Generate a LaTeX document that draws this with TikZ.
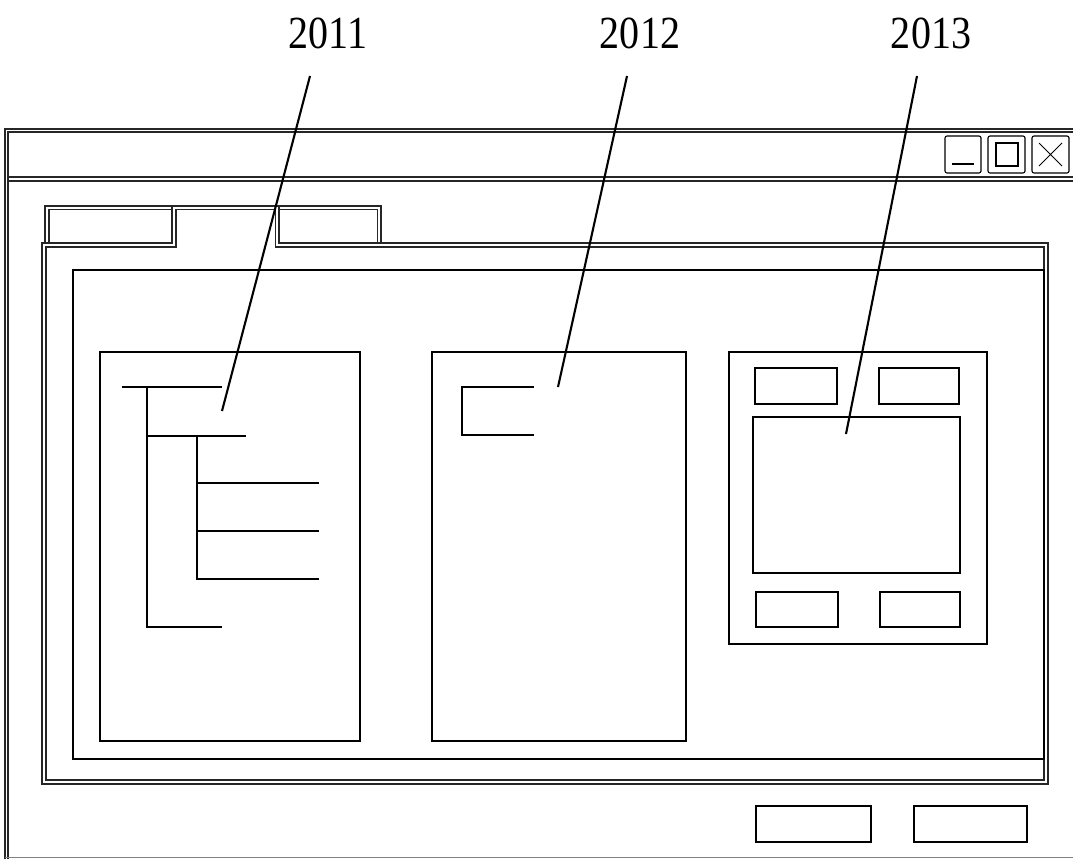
\documentclass[tikz,border=0pt]{standalone}
\usepackage{fontspec}
\setmainfont{Liberation Serif}
\begin{document}
\begin{tikzpicture}[x=1pt,y=-1pt,
  winline/.style={line width=1.1pt, draw=black!85},
  boxline/.style={line width=1.6pt},
  treeline/.style={line width=2.6pt},
  leader/.style={line width=2.1pt},
  tbtn/.style={line width=1.1pt, rounded corners=2pt},
  lbl/.style={font=\fontsize{46}{50}\selectfont, xscale=0.87, inner sep=0pt}]
\useasboundingbox (0,0) rectangle (1073,859);
\begin{scope}
\clip (0,0) rectangle (1073,859);
% window frame
\draw[winline] (5,859) -- (5,129) -- (1080,129);
\draw[winline] (8,859) -- (8,132) -- (1080,132);
\draw[winline, draw=black!50] (5,857.5) -- (1080,857.5);
% title bar bottom
\draw[winline] (8,177) -- (1080,177);
\draw[winline] (8,181) -- (1080,181);
\end{scope}
% title bar buttons
\draw[tbtn] (945,136) rectangle (981,173);
\draw[line width=1.1pt] (952,164) -- (974,164);
\draw[tbtn] (988,136) rectangle (1025,173);
\draw[line width=1.1pt] (996,143) rectangle (1018,166);
\draw[tbtn] (1032,136) rectangle (1069,173);
\draw[line width=0.9pt] (1039,143) -- (1062,166) (1062,143) -- (1039,166);
% tabs and panel
\draw[winline] (42,784) -- (42,243) -- (172,243) -- (172,206) -- (279,206) -- (279,243) -- (1048,243) -- (1048,784) -- cycle;
\draw[winline] (46,780) -- (46,247) -- (176,247) -- (176,209.5) -- (275.5,209.5) -- (275.5,247) -- (1044,247) -- (1044,780) -- cycle;
\draw[winline] (45,243) -- (45,206) -- (172,206);
\draw[winline] (49,243) -- (49,209.5) -- (172,209.5);
\draw[winline] (279,206) -- (381,206) -- (381,243);
\draw[winline] (279,209.5) -- (377.5,209.5) -- (377.5,243);
% inner frame
\draw[boxline] (73,270) rectangle (1044,759);
% left box with tree
\draw[boxline] (100,352) rectangle (360,741);
\draw[treeline] (122,387) -- (222,387);
\draw[treeline] (147,387) -- (147,627) -- (222,627);
\draw[treeline] (147,436) -- (246,436);
\draw[treeline] (197,436) -- (197,579) -- (319,579);
\draw[treeline] (197,483) -- (319,483);
\draw[treeline] (197,531) -- (319,531);
% middle box
\draw[boxline] (432,352) rectangle (686,741);
\draw[treeline] (534,387) -- (462,387) -- (462,435) -- (534,435);
% right box
\draw[boxline] (729,352) rectangle (987,644);
\draw[boxline] (755,368) rectangle (837,404);
\draw[boxline] (879,368) rectangle (959,404);
\draw[boxline] (753,417) rectangle (960,573);
\draw[boxline] (756,592) rectangle (838,627);
\draw[boxline] (880,592) rectangle (960,627);
% bottom buttons
\draw[boxline] (756,806) rectangle (871,842);
\draw[boxline] (914,806) rectangle (1027,842);
% labels and leaders
\node[lbl] (l2011) at (328,33) {2011};
\node[lbl] (l2012) at (640,33) {2012};
\node[lbl] (l2013) at (931,33) {2013};
\coordinate (t2011) at (310,76);
\coordinate (t2012) at (627,76);
\coordinate (t2013) at (917,76);
\coordinate (p2011) at (222,411);
\coordinate (p2012) at (558,387);
\coordinate (p2013) at (846,434);
\draw[leader] (t2011) -- (p2011);
\draw[leader] (t2012) -- (p2012);
\draw[leader] (t2013) -- (p2013);
\end{tikzpicture}
\end{document}
